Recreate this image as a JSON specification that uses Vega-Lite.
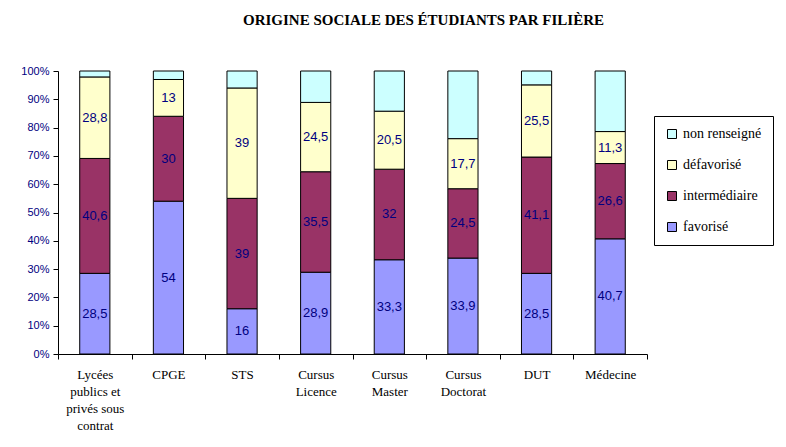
{
  "$schema": "https://vega.github.io/schema/vega-lite/v6.json",
  "width": 589,
  "height": 283,
  "autosize": {"type": "none"},
  "padding": {"left": 58, "top": 71, "right": 139, "bottom": 93},
  "title": {"text": "ORIGINE SOCIALE DES ÉTUDIANTS PAR FILIÈRE", "font": "Liberation Serif", "fontSize": 15, "fontWeight": "bold", "color": "#000000", "anchor": "middle", "frame": "group", "dx": 71, "offset": 37},
  "data": {"values": [
    {"filiere": "Lycées publics et privés sous contrat", "origine": "favorisé", "pct": 28.5},
    {"filiere": "Lycées publics et privés sous contrat", "origine": "intermédiaire", "pct": 40.6},
    {"filiere": "Lycées publics et privés sous contrat", "origine": "défavorisé", "pct": 28.8},
    {"filiere": "Lycées publics et privés sous contrat", "origine": "non renseigné", "pct": 2.1},
    {"filiere": "CPGE", "origine": "favorisé", "pct": 54},
    {"filiere": "CPGE", "origine": "intermédiaire", "pct": 30},
    {"filiere": "CPGE", "origine": "défavorisé", "pct": 13},
    {"filiere": "CPGE", "origine": "non renseigné", "pct": 3},
    {"filiere": "STS", "origine": "favorisé", "pct": 16},
    {"filiere": "STS", "origine": "intermédiaire", "pct": 39},
    {"filiere": "STS", "origine": "défavorisé", "pct": 39},
    {"filiere": "STS", "origine": "non renseigné", "pct": 6},
    {"filiere": "Cursus Licence", "origine": "favorisé", "pct": 28.9},
    {"filiere": "Cursus Licence", "origine": "intermédiaire", "pct": 35.5},
    {"filiere": "Cursus Licence", "origine": "défavorisé", "pct": 24.5},
    {"filiere": "Cursus Licence", "origine": "non renseigné", "pct": 11.1},
    {"filiere": "Cursus Master", "origine": "favorisé", "pct": 33.3},
    {"filiere": "Cursus Master", "origine": "intermédiaire", "pct": 32},
    {"filiere": "Cursus Master", "origine": "défavorisé", "pct": 20.5},
    {"filiere": "Cursus Master", "origine": "non renseigné", "pct": 14.2},
    {"filiere": "Cursus Doctorat", "origine": "favorisé", "pct": 33.9},
    {"filiere": "Cursus Doctorat", "origine": "intermédiaire", "pct": 24.5},
    {"filiere": "Cursus Doctorat", "origine": "défavorisé", "pct": 17.7},
    {"filiere": "Cursus Doctorat", "origine": "non renseigné", "pct": 23.9},
    {"filiere": "DUT", "origine": "favorisé", "pct": 28.5},
    {"filiere": "DUT", "origine": "intermédiaire", "pct": 41.1},
    {"filiere": "DUT", "origine": "défavorisé", "pct": 25.5},
    {"filiere": "DUT", "origine": "non renseigné", "pct": 4.9},
    {"filiere": "Médecine", "origine": "favorisé", "pct": 40.7},
    {"filiere": "Médecine", "origine": "intermédiaire", "pct": 26.6},
    {"filiere": "Médecine", "origine": "défavorisé", "pct": 11.3},
    {"filiere": "Médecine", "origine": "non renseigné", "pct": 21.4}
  ]},
  "transform": [
    {"calculate": "indexof(['favorisé','intermédiaire','défavorisé','non renseigné'], datum.origine)", "as": "ordre"},
    {"stack": "pct", "groupby": ["filiere"], "sort": [{"field": "ordre", "order": "ascending"}], "offset": "normalize", "as": ["y0", "y1"]},
    {"calculate": "(datum.y0 + datum.y1) / 2", "as": "ymid"},
    {"calculate": "replace(format(datum.pct, '~g'), '.', ',')", "as": "etiquette"}
  ],
  "encoding": {
    "x": {
      "field": "filiere", "type": "nominal",
      "sort": ["Lycées publics et privés sous contrat", "CPGE", "STS", "Cursus Licence", "Cursus Master", "Cursus Doctorat", "DUT", "Médecine"],
      "scale": {"paddingInner": 0, "paddingOuter": 0},
      "axis": {
        "title": null, "labelAngle": 0, "ticks": true, "tickBand": "extent", "bandPosition": 0, "tickSize": 5, "labelPadding": 9,
        "labelFont": "Liberation Serif", "labelFontSize": 13, "labelColor": "#000000", "labelLineHeight": 17,
        "labelLimit": 0, "domainColor": "#000000", "tickColor": "#000000",
        "labelExpr": "datum.label == 'Lycées publics et privés sous contrat' ? ['Lycées', 'publics et', 'privés sous', 'contrat'] : split(datum.label, ' ')"
      }
    },
    "y": {"field": "y0", "type": "quantitative", "scale": {"domain": [0, 1]},
      "axis": {"title": null, "values": [0, 0.1, 0.2, 0.3, 0.4, 0.5, 0.6, 0.7, 0.8, 0.9, 1], "format": ".0%",
        "labelFont": "Liberation Sans", "labelFontSize": 11, "labelColor": "#000080", "grid": false,
        "domainColor": "#000000", "tickColor": "#000000", "tickSize": 5, "labelPadding": 4}}
  },
  "layer": [
    {
      "mark": {"type": "bar", "width": {"band": 0.41}, "stroke": "#000000", "strokeWidth": 1},
      "encoding": {
        "y2": {"field": "y1"},
        "color": {
          "field": "origine", "type": "nominal",
          "scale": {"domain": ["non renseigné", "défavorisé", "intermédiaire", "favorisé"], "range": ["#CCFFFF", "#FFFFCC", "#993366", "#9999FF"]},
          "legend": {"title": null, "orient": "none", "legendX": 596, "legendY": 45, "strokeColor": "#000000", "fillColor": "#FFFFFF",
            "padding": 11, "symbolType": "square", "symbolSize": 81, "symbolStrokeColor": "#000000", "symbolStrokeWidth": 1,
            "labelFont": "Liberation Serif", "labelFontSize": 14, "labelColor": "#000000", "rowPadding": 17,
            "labelOffset": 4}
        }
      }
    },
    {
      "transform": [{"filter": "datum.origine != 'non renseigné'"}],
      "mark": {"type": "text", "font": "Liberation Sans", "fontSize": 13, "color": "#000080", "baseline": "middle"},
      "encoding": {
        "y": {"field": "ymid", "type": "quantitative"},
        "text": {"field": "etiquette", "type": "nominal"}
      }
    }
  ],
  "config": {
    "view": {"stroke": null}
  }
}
